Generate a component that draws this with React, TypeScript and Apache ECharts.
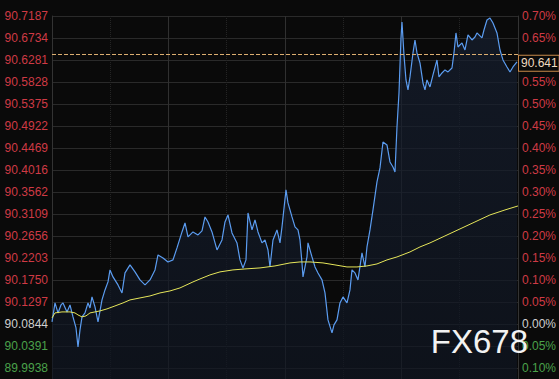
import React, { useEffect, useRef } from "react";
import * as echarts from "echarts";

const leftLabels = ["90.7187","90.6734","90.6281","90.5828","90.5375","90.4922","90.4469","90.4016","90.3562","90.3109","90.2656","90.2203","90.1750","90.1297","90.0844","90.0391","89.9938"];
const rightLabels = ["0.70%","0.65%","0.60%","0.55%","0.50%","0.45%","0.40%","0.35%","0.30%","0.25%","0.20%","0.15%","0.10%","0.05%","0.00%","0.05%","0.10%"];
const coveredRightLabel = 2; // hidden behind the last-price tag in the reference
const baseIndex = 14;
const lastPrice = 90.641;
const priceMin = 89.97115;
const priceMax = 90.7187;

const priceTimes = [0,3,6,9,11,15,18,21,24,26,28,30,33,36,38,40,43,46,50,53,56,58,61,66,70,73,78,83,88,93,98,103,106,111,116,121,125,130,133,136,141,146,150,153,156,160,165,170,173,176,180,185,188,191,194,196,200,203,206,210,213,216,218,221,225,228,230,234,236,240,243,246,248,250,251,255,256,260,263,266,270,273,276,280,282,285,288,291,295,298,300,303,306,310,313,315,318,321,325,328,331,335,338,341,343,345,347,349,350,352,354,356,358,361,363,365,368,371,373,375,378,381,385,387,390,393,396,400,402,404,406,410,413,416,420,423,425,430,432,435,438,441,445,448,451,455,458,461,465];
const priceValues = [90.0887,90.1278,90.1072,90.1237,90.1278,90.1093,90.1237,90.0990,90.0763,90.0372,90.0722,90.0990,90.1072,90.1278,90.1175,90.1402,90.1196,90.0887,90.1340,90.1546,90.1711,90.1958,90.1814,90.1649,90.1484,90.1896,90.2061,90.1917,90.1752,90.1649,90.1752,90.1958,90.2267,90.2205,90.2122,90.2164,90.2411,90.2740,90.2925,90.2637,90.2740,90.2678,90.2761,90.3049,90.2946,90.2740,90.2369,90.2575,90.2946,90.3090,90.2720,90.2514,90.2164,90.1999,90.2164,90.3131,90.2781,90.2987,90.2740,90.2514,90.2575,90.2369,90.2019,90.2575,90.2781,90.2514,90.2843,90.3605,90.3337,90.3049,90.2843,90.2781,90.2575,90.2102,90.1814,90.2225,90.2514,90.2225,90.2019,90.1896,90.1752,90.1484,90.0928,90.0661,90.0825,90.0928,90.1278,90.1402,90.1278,90.1546,90.1958,90.1896,90.1752,90.2308,90.2019,90.2431,90.2781,90.3193,90.3770,90.4058,90.4593,90.4531,90.4181,90.4078,90.3976,90.4902,90.5602,90.6735,90.7064,90.6385,90.5870,90.5664,90.5932,90.6426,90.6693,90.6426,90.6220,90.5808,90.5664,90.5870,90.5726,90.5973,90.6282,90.5932,90.6014,90.6076,90.6035,90.6117,90.6426,90.6838,90.6549,90.6632,90.6487,90.6796,90.6693,90.6755,90.6838,90.6735,90.6899,90.7105,90.7146,90.7043,90.6838,90.6487,90.6282,90.6137,90.6035,90.6137,90.6240];

const maTimes = [0,3,10,18,23,26,30,34,38,48,55,63,71,78,88,98,108,118,128,141,148,158,168,181,193,208,223,238,248,258,271,283,295,305,315,325,335,345,358,368,378,393,408,423,438,453,466];
const maValues = [90.0969,90.1072,90.1093,90.1093,90.1072,90.1031,90.0990,90.1011,90.1072,90.1114,90.1155,90.1216,90.1278,90.1340,90.1381,90.1422,90.1484,90.1525,90.1587,90.1711,90.1772,90.1855,90.1917,90.1958,90.1978,90.1999,90.2040,90.2102,90.2122,90.2122,90.2102,90.2061,90.2019,90.2019,90.2040,90.2081,90.2164,90.2225,90.2328,90.2431,90.2514,90.2658,90.2802,90.2946,90.3090,90.3193,90.3275];

const RED = "#cf3a45";
const GREEN = "#4aa24a";
const GREY = "#cfcfcf";

function labelColor(i: number) {
  if (i < baseIndex) return RED;
  if (i === baseIndex) return GREY;
  return GREEN;
}

export default function App() {
  const ref = useRef<HTMLDivElement>(null);
  useEffect(() => {
    if (!ref.current) return;
    const chart = echarts.init(ref.current, undefined, { renderer: "svg" });
    const priceData = priceTimes.map((t, i) => [t, priceValues[i]]);
    const maData = maTimes.map((t, i) => [t, maValues[i]]);
    const labelAxisBase = {
      type: "value" as const,
      inverse: true,
      min: 0,
      max: 16.5,
      interval: 1,
      axisTick: { show: false },
      axisLine: { show: true, lineStyle: { color: "#333" } },
    };
    chart.setOption({
      animation: false,
      backgroundColor: "#0a0a0a",
      grid: { left: 52, right: 41, top: 16, bottom: 0, containLabel: false },
      xAxis: {
        type: "value",
        min: 0,
        max: 466,
        interval: 116.5,
        axisLabel: { show: false },
        axisLine: { show: false },
        axisTick: { show: false },
        splitLine: { show: true, lineStyle: { color: "#303030", width: 1 } },
        minorTick: { show: false, splitNumber: 2 },
        minorSplitLine: { show: true, lineStyle: { color: "#242424", type: "dotted" } },
      },
      yAxis: [
        { type: "value", min: priceMin, max: priceMax, show: false },
        {
          ...labelAxisBase,
          position: "left",
          splitLine: { show: true, lineStyle: { color: "#2a2a2a" } },
          axisLabel: {
            margin: 4,
            fontSize: 12,
            fontFamily: "Liberation Sans, Arial, sans-serif",
            formatter: (v: number) => (Number.isInteger(v) && leftLabels[v] ? leftLabels[v] : ""),
            color: (v: any) => labelColor(Math.round(Number(v))),
          },
        },
        {
          ...labelAxisBase,
          position: "right",
          splitLine: { show: false },
          axisLabel: {
            margin: 4,
            fontSize: 12,
            fontFamily: "Liberation Sans, Arial, sans-serif",
            formatter: (v: number) =>
              Number.isInteger(v) && v !== coveredRightLabel && rightLabels[v] ? rightLabels[v] : "",
            color: (v: any) => labelColor(Math.round(Number(v))),
          },
        },
      ],
      series: [
        {
          type: "line",
          yAxisIndex: 0,
          data: priceData,
          showSymbol: false,
          symbol: "none",
          lineStyle: { color: "#5b9cf0", width: 1.2 },
          areaStyle: {
            origin: "start",
            color: new echarts.graphic.LinearGradient(0, 0, 0, 1, [
              { offset: 0, color: "#161f30" },
              { offset: 1, color: "#0f1521" },
            ]),
          },
          markLine: {
            silent: true,
            symbol: "none",
            lineStyle: { color: "#dcae70", type: "dashed", width: 1 },
            label: {
              show: true,
              position: "end",
              distance: 1,
              formatter: () => lastPrice.toFixed(3),
              color: "#f0dcc0",
              fontSize: 12,
              fontFamily: "Liberation Sans, Arial, sans-serif",
              backgroundColor: "#0a0a0a",
              borderColor: "#c98a4a",
              borderWidth: 1,
              padding: [2, 1, 1, 2],
              offset: [0, 9],
            },
            data: [{ yAxis: lastPrice }],
          },
          z: 3,
        },
        {
          type: "line",
          yAxisIndex: 0,
          data: maData,
          showSymbol: false,
          symbol: "none",
          lineStyle: { color: "#e6e65a", width: 1 },
          z: 4,
        },
      ],
      graphic: [
        {
          type: "text",
          right: 31,
          top: 325,
          style: {
            text: "FX678",
            fill: "#f2f2f2",
            font: "33px 'Liberation Sans', Arial, sans-serif",
          },
          z: 10,
        },
      ],
    });
    return () => chart.dispose();
  }, []);
  return <div ref={ref} style={{ position: "fixed", left: 0, top: 0, width: 559, height: 379 }} />;
}
